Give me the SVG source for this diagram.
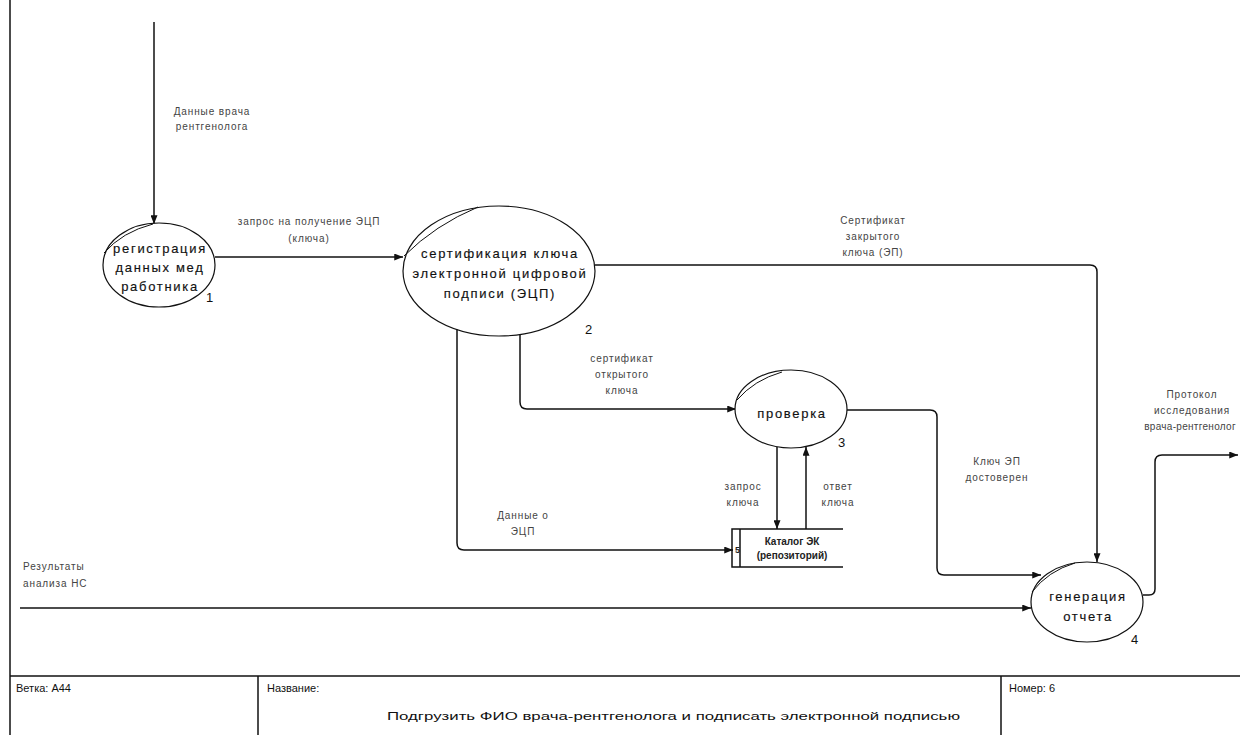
<svg xmlns="http://www.w3.org/2000/svg" width="1240" height="735" viewBox="0 0 1240 735">
  <style>
    .frame { stroke: #111; stroke-width: 1.5; fill: none; }
    .bubble { fill: #fff; stroke: #111; stroke-width: 1.2; }
    .tick { fill: none; stroke: #111; stroke-width: 1; }
    .flow { fill: none; stroke: #111; stroke-width: 1.5; }
    .ntext { font-family: "Liberation Sans", Arial, sans-serif; font-size: 13px; letter-spacing: 1.7px; fill: #111; stroke: #111; stroke-width: 0.15; text-anchor: middle; }
    .num { font-family: "Liberation Sans", Arial, sans-serif; font-size: 13px; fill: #111; }
    .lbl { font-family: "Liberation Sans", Arial, sans-serif; font-size: 10px; letter-spacing: 0.9px; fill: #444; text-anchor: middle; }
    .lbl-l { font-family: "Liberation Sans", Arial, sans-serif; font-size: 10px; letter-spacing: 0.9px; fill: #444; }
    .ftext { font-family: "Liberation Sans Narrow", "Liberation Sans", Arial, sans-serif; font-size: 11px; fill: #111; }
    .stext { font-family: "Liberation Sans", Arial, sans-serif; font-size: 10px; font-weight: bold; fill: #222; text-anchor: middle; }
  </style>
  <defs>
    <marker id="arrow" viewBox="0 0 10 8" refX="10" refY="4" markerWidth="9" markerHeight="7" markerUnits="userSpaceOnUse" orient="auto">
      <path d="M0,0 L10,4 L0,8 Z" fill="#111"/>
    </marker>
  </defs>

  <!-- page frame and title block -->
  <g id="frame">
    <line class="frame" x1="10" y1="0" x2="10" y2="735"/>
    <line class="frame" x1="10" y1="676" x2="1240" y2="676"/>
    <line class="frame" x1="258" y1="676" x2="258" y2="735"/>
    <line class="frame" x1="1001" y1="676" x2="1001" y2="735"/>
    <text class="ftext" x="16" y="692">Ветка:  А44</text>
    <text class="ftext" x="267" y="692">Название:</text>
    <text class="ftext" x="387" y="720" textLength="573" lengthAdjust="spacingAndGlyphs">Подгрузить ФИО врача-рентгенолога и подписать электронной подписью</text>
    <text class="ftext" x="1009" y="692">Номер: 6</text>
  </g>

  <!-- data flows -->
  <g id="connectors">
    <path class="flow" d="M154,22 V224" marker-end="url(#arrow)"/>
    <path class="flow" d="M215,257 H403" marker-end="url(#arrow)"/>
    <path class="flow" d="M595,265 H1090 Q1097,265 1097,272 V562" marker-end="url(#arrow)"/>
    <path class="flow" d="M520,334 V402 Q520,409 527,409 H736" marker-end="url(#arrow)"/>
    <path class="flow" d="M457,326 V543 Q457,550 464,550 H733" marker-end="url(#arrow)"/>
    <path class="flow" d="M777,447 V529" marker-end="url(#arrow)"/>
    <path class="flow" d="M806,529 V447" marker-end="url(#arrow)"/>
    <path class="flow" d="M847,410 H930 Q937,410 937,417 V568 Q937,575 944,575 H1041" marker-end="url(#arrow)"/>
    <path class="flow" d="M20,608 H1031" marker-end="url(#arrow)"/>
    <path class="flow" d="M1143,595 H1149 Q1155,595 1155,589 V462 Q1155,455 1162,455 H1238" marker-end="url(#arrow)"/>

    <text class="lbl" x="212" y="115">Данные врача</text>
    <text class="lbl" x="212" y="130">рентгенолога</text>
    <text class="lbl" x="309" y="225">запрос на получение ЭЦП</text>
    <text class="lbl" x="309" y="242">(ключа)</text>
    <text class="lbl" x="873" y="224">Сертификат</text>
    <text class="lbl" x="873" y="240">закрытого</text>
    <text class="lbl" x="873" y="256">ключа (ЭП)</text>
    <text class="lbl" x="622" y="362">сертификат</text>
    <text class="lbl" x="622" y="378">открытого</text>
    <text class="lbl" x="622" y="394">ключа</text>
    <text class="lbl" x="523" y="519">Данные о</text>
    <text class="lbl" x="523" y="535">ЭЦП</text>
    <text class="lbl" x="743" y="490">запрос</text>
    <text class="lbl" x="743" y="506">ключа</text>
    <text class="lbl" x="838" y="490">ответ</text>
    <text class="lbl" x="838" y="506">ключа</text>
    <text class="lbl" x="997" y="465">Ключ ЭП</text>
    <text class="lbl" x="997" y="481">достоверен</text>
    <text class="lbl-l" x="23" y="570">Результаты</text>
    <text class="lbl-l" x="23" y="587">анализа НС</text>
    <text class="lbl" x="1192" y="398">Протокол</text>
    <text class="lbl" x="1192" y="414">исследования</text>
    <text class="lbl" x="1190" y="430" style="letter-spacing:0.3px">врача-рентгенолог</text>
  </g>

  <!-- process 1 -->
  <g id="p1">
    <ellipse class="bubble" cx="159" cy="265" rx="56" ry="42"/>
    <path class="tick" d="M104,253 Q122,232 153,224"/>
    <text class="ntext" x="160" y="253">регистрация</text>
    <text class="ntext" x="160" y="272">данных мед</text>
    <text class="ntext" x="160" y="291">работника</text>
    <text class="num" x="206" y="302">1</text>
  </g>

  <!-- process 2 -->
  <g id="p2">
    <ellipse class="bubble" cx="499" cy="271" rx="96" ry="65"/>
    <path class="tick" d="M404,256 Q435,225 478,207"/>
    <text class="ntext" x="500" y="258">сертификация ключа</text>
    <text class="ntext" x="500" y="278">электронной цифровой</text>
    <text class="ntext" x="500" y="298">подписи (ЭЦП)</text>
    <text class="num" x="585" y="334">2</text>
  </g>

  <!-- process 3 -->
  <g id="p3">
    <ellipse class="bubble" cx="791" cy="409" rx="56" ry="39"/>
    <path class="tick" d="M737,400 Q754,380 782,372"/>
    <text class="ntext" x="792" y="418">проверка</text>
    <text class="num" x="838" y="447">3</text>
  </g>

  <!-- process 4 -->
  <g id="p4">
    <ellipse class="bubble" cx="1087" cy="602" rx="56" ry="40"/>
    <path class="tick" d="M1032,592 Q1048,571 1075,563"/>
    <text class="ntext" x="1088" y="601">генерация</text>
    <text class="ntext" x="1088" y="621">отчета</text>
    <text class="num" x="1131" y="644">4</text>
  </g>

  <!-- data store 5 -->
  <g id="store5">
    <path class="flow" d="M843,529 H732 V567 H843" fill="#fff"/>
    <line class="flow" x1="740" y1="529" x2="740" y2="567"/>
    <text class="stext" x="735" y="553" style="text-anchor:start;font-size:9px">5</text>
    <text class="stext" x="792" y="545">Каталог ЭК</text>
    <text class="stext" x="792" y="559">(репозиторий)</text>
  </g>
</svg>
